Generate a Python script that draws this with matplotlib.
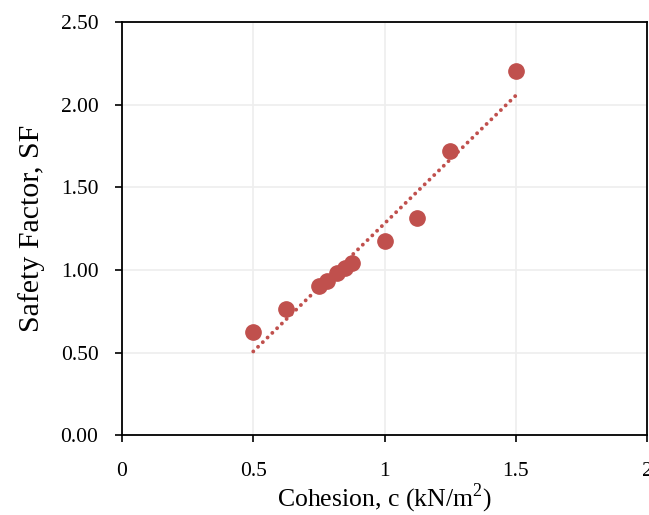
import numpy as np
import matplotlib
matplotlib.use("Agg")
import matplotlib.pyplot as plt

plt.rcParams['font.family'] = ['Liberation Serif', 'DejaVu Serif']
plt.rcParams['mathtext.fontset'] = 'custom'
plt.rcParams['mathtext.rm'] = 'Liberation Serif'

cohesion = [0.5, 0.625, 0.75, 0.78, 0.82, 0.85, 0.875, 1.0, 1.125, 1.25, 1.5]
safety_factor = [0.623, 0.763, 0.902, 0.932, 0.98, 1.01, 1.041, 1.174, 1.314, 1.719, 2.203]
xticks = [0, 0.5, 1, 1.5, 2]
xticklabels = ["0", "0.5", "1", "1.5", "2"]
yticks = [0, 0.5, 1.0, 1.5, 2.0, 2.5]
yticklabels = ["0.00", "0.50", "1.00", "1.50", "2.00", "2.50"]

color = "#C0504D"

fig = plt.figure(figsize=(6.49, 5.15), dpi=100)
ax = fig.add_axes([0.188, 0.155, 0.809, 0.802])

ax.plot(cohesion, safety_factor, 'o', color=color, markersize=11, zorder=3)

coef = np.polyfit(cohesion, safety_factor, 1)
xs = np.array([min(cohesion), max(cohesion)])
ax.plot(xs, np.polyval(coef, xs), linestyle=(0, (0.01, 1.7)), color=color,
        linewidth=2.8, dash_capstyle='round', zorder=2)

ax.set_xlim(0, 2)
ax.set_ylim(0, 2.5)
ax.set_xticks(xticks)
ax.set_xticklabels(xticklabels)
ax.set_yticks(yticks)
ax.set_yticklabels(yticklabels)
ax.tick_params(axis='both', labelsize=15.5, direction='out', length=5, width=1.2, color='black')
ax.tick_params(axis='x', pad=14)
ax.tick_params(axis='y', pad=12)
ax.grid(True, color='#EEEEEE', linewidth=1.2)
ax.set_axisbelow(True)
for s in ax.spines.values():
    s.set_color('black')
    s.set_linewidth(1.3)

ax.set_xlabel(r"Cohesion, c (kN/m$^{2}$)", fontsize=18.5, labelpad=1)
ax.set_ylabel("Safety Factor, SF", fontsize=21.5, labelpad=11)

fig.savefig("out.png", dpi=100)
